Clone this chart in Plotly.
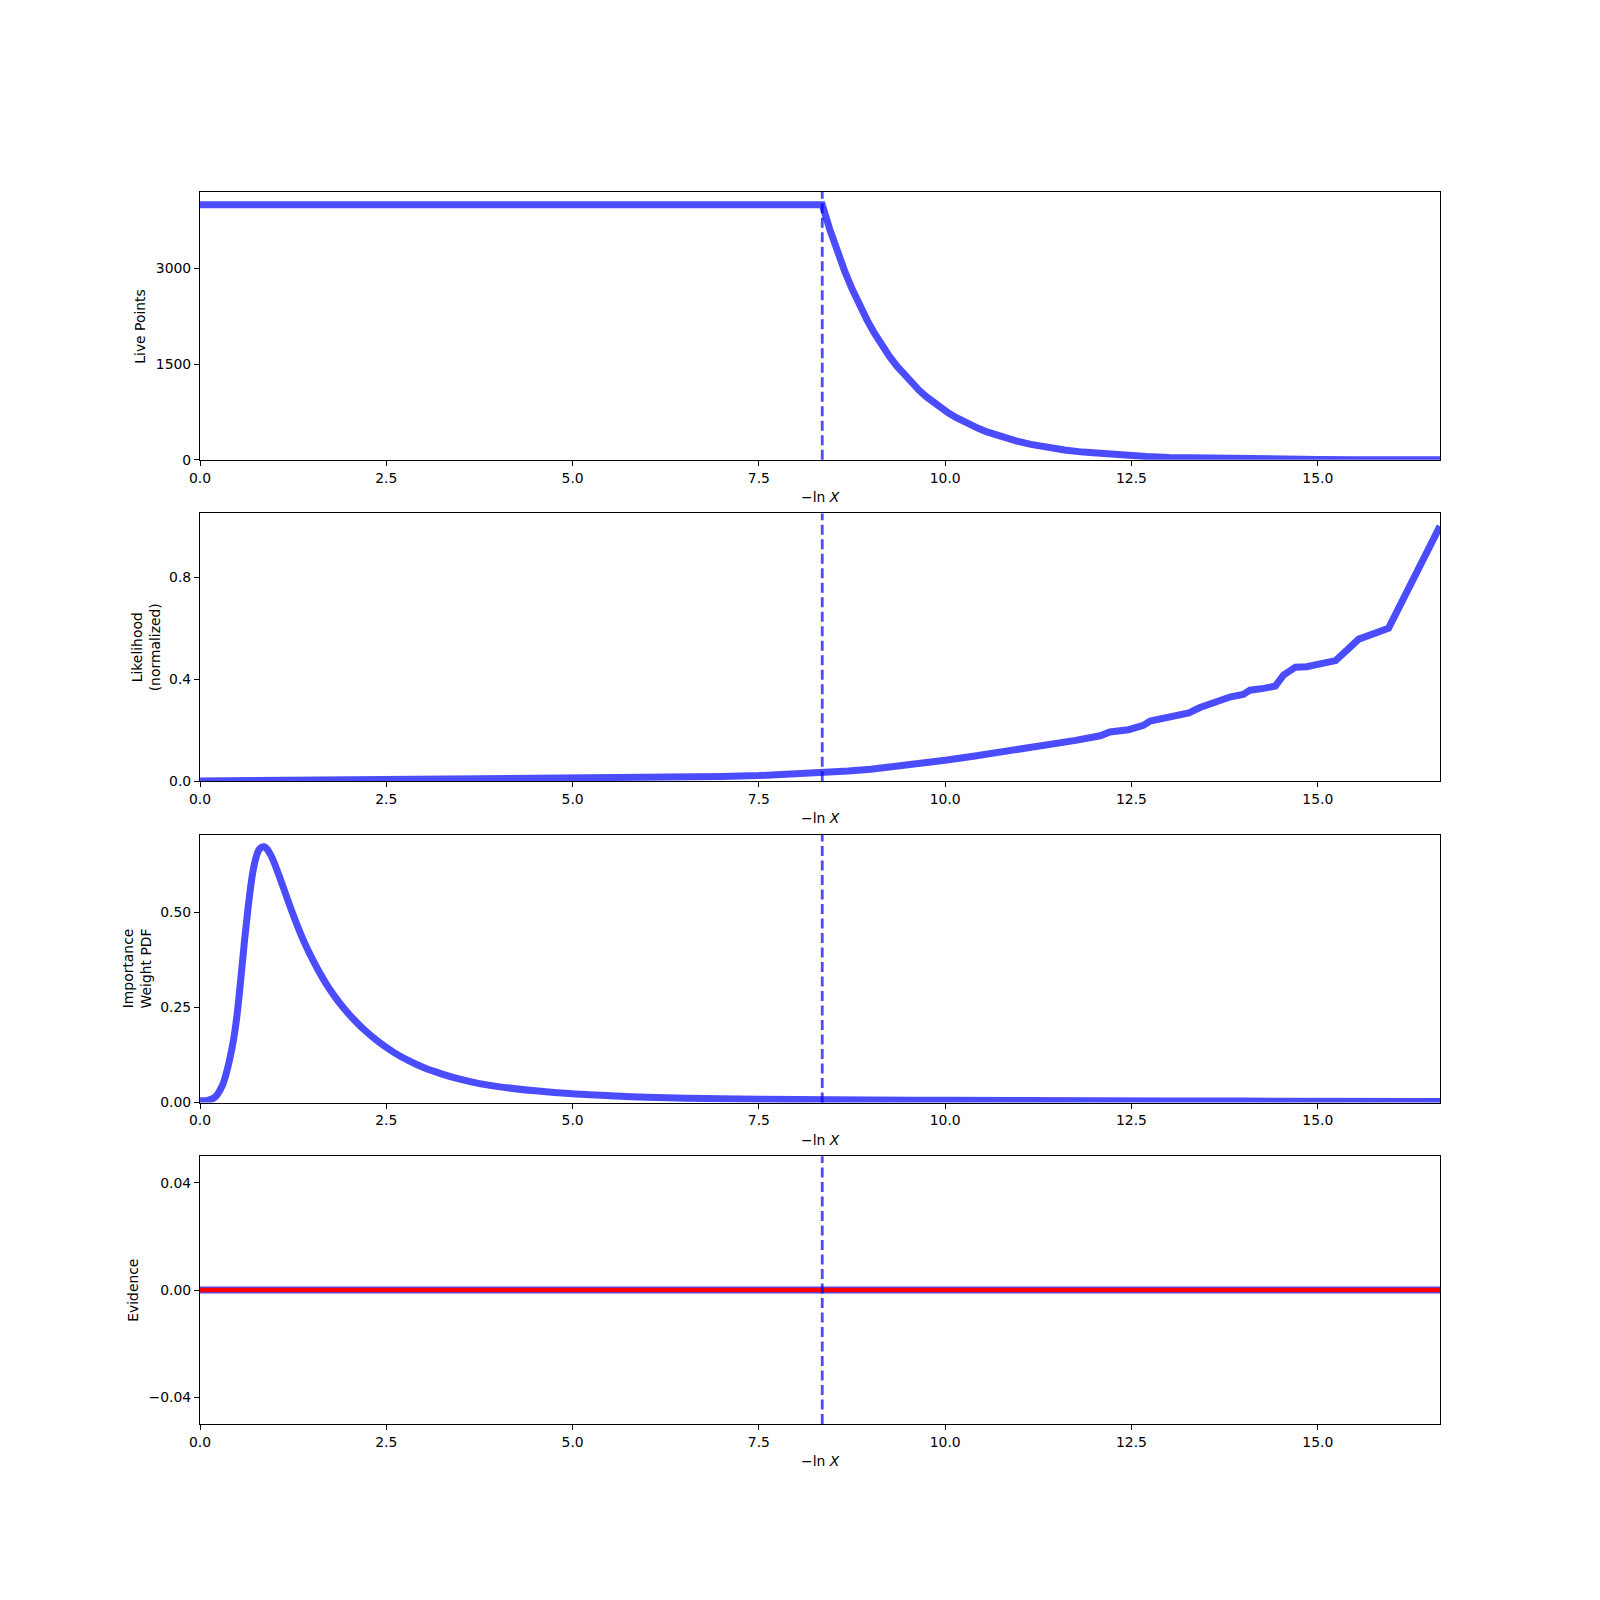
import plotly.graph_objects as go

# ---------------- data ----------------
live_x = [0.0, 8.35, 8.45, 8.55, 8.65, 8.75, 8.85, 8.95, 9.05, 9.15, 9.25, 9.35, 9.45,
          9.55, 9.65, 9.75, 9.85, 9.95, 10.05, 10.15, 10.25, 10.35, 10.45, 10.55,
          10.75, 10.95, 11.15, 11.35, 11.6, 11.85, 12.1, 12.4, 12.7, 13.0, 13.5, 14.0,
          14.5, 15.0, 15.5, 16.0, 16.64]
live_y = [4000, 4000, 3619, 3275, 2963, 2681, 2426, 2195, 1986, 1797, 1626, 1472, 1331,
          1205, 1090, 986, 893, 808, 730, 661, 598, 541, 490, 443,
          363, 297, 243, 199, 155, 121, 94, 70, 52, 38, 23, 14,
          8, 5, 3, 2, 1]

lik_x = [0.0, 0.6, 0.75, 2.5, 4.0, 5.37, 6.0, 7.0, 7.5, 8.0, 8.35, 8.7, 9.0, 9.3, 9.6,
         10.0, 10.4, 10.74, 11.1, 11.41, 11.75,
         12.08, 12.21, 12.46, 12.66, 12.75, 12.98, 13.09, 13.27, 13.42, 13.62, 13.71,
         13.83, 14.00, 14.09, 14.27, 14.43, 14.54, 14.70, 14.85, 15.24, 15.55, 15.95, 16.64]
lik_y = [0.001, 0.002, 0.005, 0.006, 0.007, 0.009, 0.012, 0.018, 0.022, 0.028, 0.033,
         0.040, 0.047, 0.056, 0.066, 0.082, 0.099, 0.113, 0.130, 0.144, 0.160,
         0.178, 0.193, 0.202, 0.219, 0.236, 0.249, 0.262, 0.268,
         0.289, 0.309, 0.320, 0.331, 0.340, 0.357, 0.364, 0.373, 0.416, 0.447, 0.449,
         0.473, 0.557, 0.600, 1.0]

wt_x = [0.0, 0.1, 0.2, 0.3, 0.35, 0.4, 0.45, 0.5, 0.55, 0.6, 0.65, 0.7, 0.74, 0.78,
        0.82, 0.86, 0.9, 0.95, 1.0, 1.1, 1.2, 1.3, 1.4, 1.5, 1.6, 1.7, 1.8, 1.9, 2.0, 2.2,
        2.4, 2.6, 2.8, 3.0, 3.25, 3.5, 3.75, 4.0, 4.5, 5.0, 5.5, 6.0, 7.0, 8.0, 9.0,
        10.0, 12.0, 14.0, 16.64]
wt_y = [0.005, 0.006, 0.014, 0.045, 0.075, 0.115, 0.165, 0.235, 0.33, 0.43, 0.52,
        0.595, 0.635, 0.66, 0.670, 0.672, 0.666, 0.650, 0.628, 0.575, 0.52, 0.468, 0.421,
        0.380, 0.343, 0.310, 0.281, 0.255, 0.232, 0.192, 0.159, 0.132, 0.110, 0.092,
        0.075, 0.061, 0.050, 0.042, 0.031, 0.023, 0.018, 0.014, 0.010, 0.008, 0.007,
        0.006, 0.005, 0.004, 0.003]

ev_x = [0.0, 16.64]
ev_y = [0.0, 0.0]
ev_truth = [0.0, 0.0]

dash_x = 8.35
x_max = 16.64

x_ticks = [0, 2.5, 5, 7.5, 10, 12.5, 15]
x_ticktext = ["0.0", "2.5", "5.0", "7.5", "10.0", "12.5", "15.0"]

panels = [
    dict(ylabel="Live Points", yrange=[0, 4200], yticks=[0, 1500, 3000],
         yticktext=["0", "1500", "3000"], shape="linear"),
    dict(ylabel="Likelihood<br>(normalized)", yrange=[0, 1.05], yticks=[0, 0.4, 0.8],
         yticktext=["0.0", "0.4", "0.8"], shape="linear"),
    dict(ylabel="Importance<br>Weight PDF", yrange=[0, 0.7035], yticks=[0, 0.25, 0.5],
         yticktext=["0.00", "0.25", "0.50"], shape="spline"),
    dict(ylabel="Evidence", yrange=[-0.05, 0.05], yticks=[-0.04, 0, 0.04],
         yticktext=["\u22120.04", "0.00", "0.04"], shape="linear"),
]
ylabel_px = [139.8, 146.0, 136.7, 132.7]

# ---------------- figure ----------------
W = H = 1600
OFF = 8  # page body margin
L, R, T, B = 200 - OFF, 160 + OFF, 192 - OFF, 176 + OFF
plot_h = H - T - B
ph = plot_h / 4.6
gap = ph * 0.2

BLUE = "rgba(0,0,255,0.7)"
FONT = "DejaVu Sans"
FS = 13.9

fig = go.Figure()

series = [(live_x, live_y), (lik_x, lik_y), (wt_x, wt_y), (ev_x, ev_y)]
layout = {}
annotations = []
shapes = []
for i, (p, (sx, sy)) in enumerate(zip(panels, series)):
    n = i + 1
    xa = "x" if n == 1 else f"x{n}"
    ya = "y" if n == 1 else f"y{n}"
    top_px = i * (ph + gap)
    d1 = 1 - top_px / plot_h
    d0 = 1 - (top_px + ph) / plot_h
    line = dict(color=BLUE, width=7, shape=p["shape"])
    if p["shape"] == "spline":
        line["smoothing"] = 0.8
    fig.add_trace(go.Scatter(x=sx, y=sy, mode="lines", xaxis=xa, yaxis=ya,
                             line=line, showlegend=False))
    if n == 4:
        fig.add_trace(go.Scatter(x=ev_x, y=ev_truth, mode="lines", xaxis=xa, yaxis=ya,
                                 line=dict(color="red", width=4.5), showlegend=False))
    axcommon = dict(showline=True, linecolor="black", linewidth=1.1, mirror=True,
                    ticks="outside", ticklen=5, tickwidth=1.1, tickcolor="black",
                    showgrid=False, zeroline=False,
                    tickfont=dict(family=FONT, size=FS, color="black"))
    layout["xaxis" if n == 1 else f"xaxis{n}"] = dict(
        axcommon, domain=[0, 1], range=[0, x_max], anchor=ya,
        tickmode="array", tickvals=x_ticks, ticktext=x_ticktext)
    layout["yaxis" if n == 1 else f"yaxis{n}"] = dict(
        axcommon, domain=[d0, d1], range=p["yrange"], anchor=xa,
        tickmode="array", tickvals=p["yticks"], ticktext=p["yticktext"])
    shapes.append(dict(type="line", xref=xa, yref=f"{ya} domain", x0=dash_x, x1=dash_x,
                       y0=0, y1=1, line=dict(color=BLUE, width=2.8, dash="10px,4.5px")))
    annotations.append(dict(text="\u2212ln <i>X</i>", xref="paper", yref=f"{ya} domain",
                            x=0.5, y=-37 / ph, xanchor="center", yanchor="middle",
                            showarrow=False, font=dict(family=FONT, size=FS, color="black")))
    annotations.append(dict(text=p["ylabel"], xref="paper", yref=f"{ya} domain",
                            x=(ylabel_px[i] - 200) / (W - L - R), y=0.5, textangle=-90,
                            xanchor="center", yanchor="middle", showarrow=False,
                            font=dict(family=FONT, size=FS, color="black")))

fig.update_layout(width=W, height=H, margin=dict(l=L, r=R, t=T, b=B),
                  plot_bgcolor="white", paper_bgcolor="white",
                  annotations=annotations, shapes=shapes, **layout)

fig.write_html("out.html")
